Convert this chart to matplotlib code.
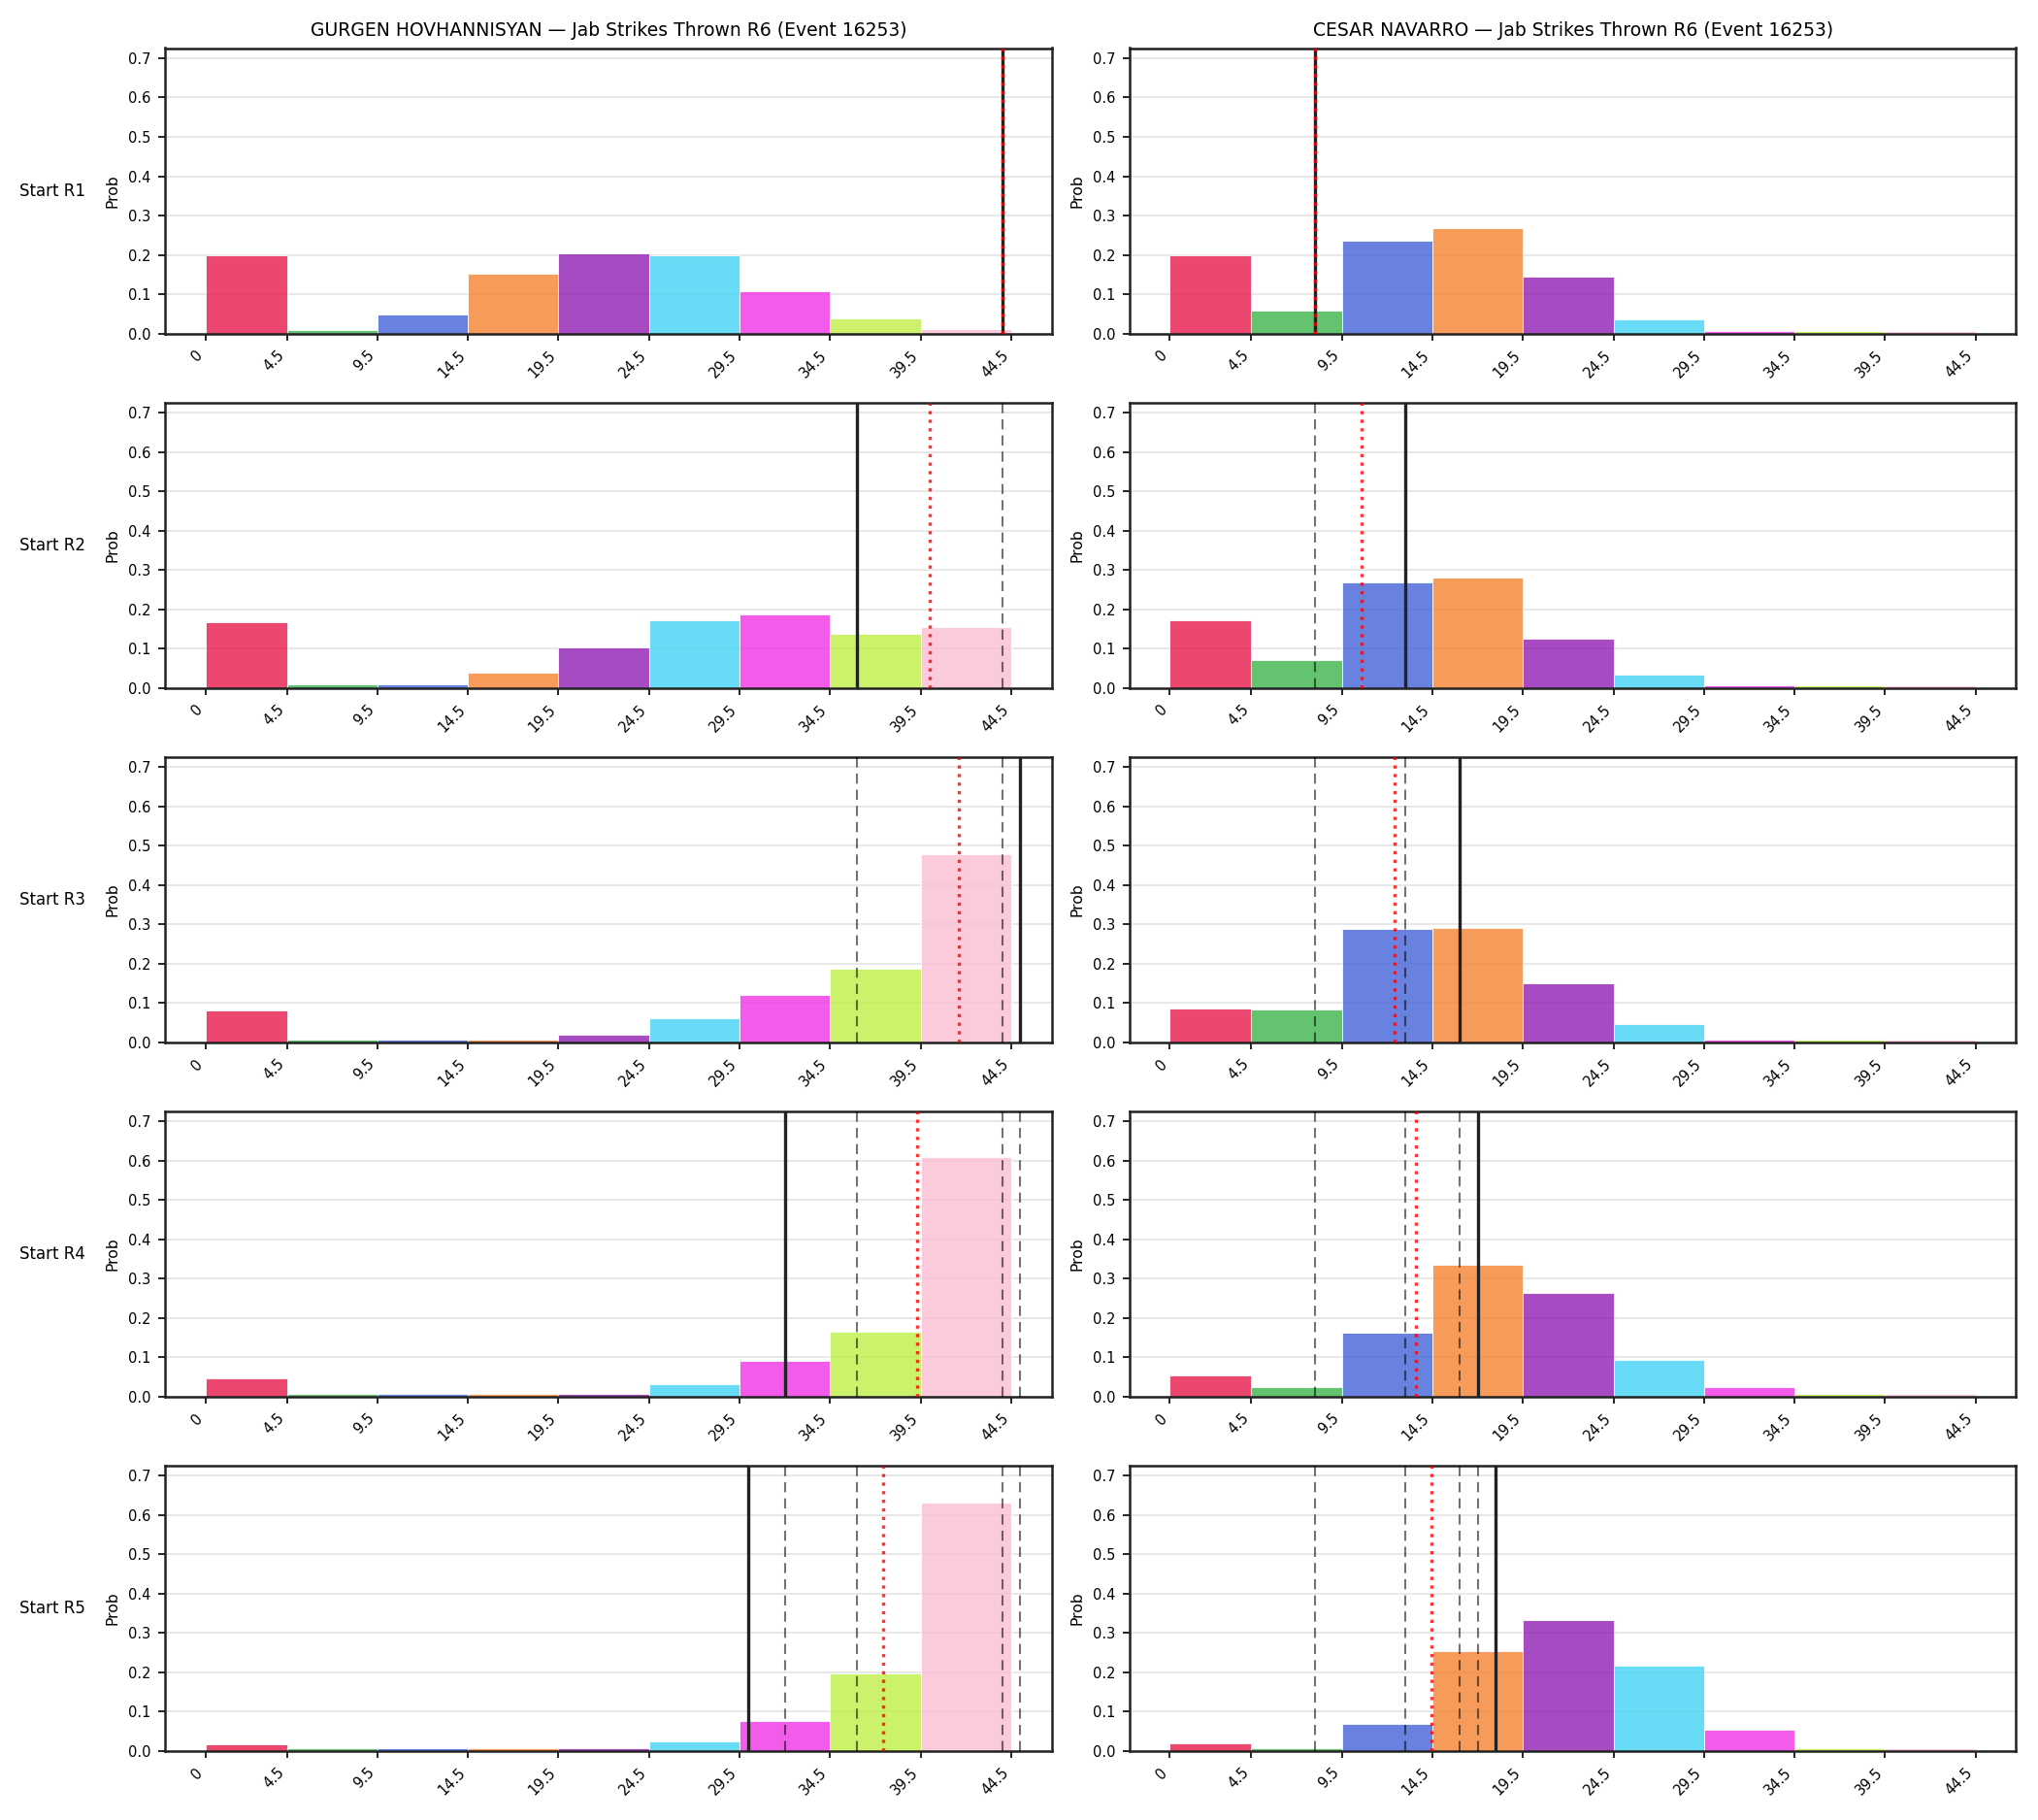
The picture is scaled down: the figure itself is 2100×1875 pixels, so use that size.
import matplotlib
matplotlib.use("Agg")
import matplotlib.pyplot as plt

# ---------------- data ----------------
bin_edges = [0, 4.5, 9.5, 14.5, 19.5, 24.5, 29.5, 34.5, 39.5, 44.5]
tick_labels = ["0", "4.5", "9.5", "14.5", "19.5", "24.5", "29.5", "34.5", "39.5", "44.5"]
bin_colors = ["#e6194b", "#3cb44b", "#4363d8", "#f58231", "#911eb4",
              "#42d4f4", "#f032e6", "#bfef45", "#fabed4"]
row_labels = ["Start R1", "Start R2", "Start R3", "Start R4", "Start R5"]
fighters = ["GURGEN HOVHANNISYAN", "CESAR NAVARRO"]
title_suffix = " \u2014 Jab Strikes Thrown R6 (Event 16253)"

gurgen_probs = [
    [0.198, 0.008, 0.049, 0.152, 0.205, 0.198, 0.108, 0.039, 0.012],
    [0.168, 0.008, 0.008, 0.040, 0.102, 0.173, 0.186, 0.138, 0.154],
    [0.081, 0.008, 0.008, 0.008, 0.020, 0.062, 0.121, 0.188, 0.478],
    [0.047, 0.007, 0.007, 0.007, 0.007, 0.032, 0.092, 0.166, 0.608],
    [0.017, 0.007, 0.007, 0.007, 0.007, 0.025, 0.077, 0.198, 0.631],
]
gurgen_actual = [44, 36, 45, 32, 30]
gurgen_mean = [44.0, 40.0, 41.6, 39.3, 37.4]

navarro_probs = [
    [0.199, 0.058, 0.237, 0.267, 0.145, 0.036, 0.007, 0.007, 0.007],
    [0.173, 0.072, 0.267, 0.280, 0.126, 0.035, 0.007, 0.007, 0.007],
    [0.087, 0.083, 0.289, 0.291, 0.150, 0.046, 0.007, 0.007, 0.007],
    [0.053, 0.025, 0.163, 0.334, 0.263, 0.094, 0.025, 0.007, 0.007],
    [0.020, 0.007, 0.069, 0.255, 0.332, 0.218, 0.055, 0.007, 0.007],
]
navarro_actual = [8, 13, 16, 17, 18]
navarro_mean = [8.0, 10.6, 12.4, 13.6, 14.45]

all_probs = [gurgen_probs, navarro_probs]
all_actual = [gurgen_actual, navarro_actual]
all_mean = [gurgen_mean, navarro_mean]

# ---------------- plot ----------------
fig, axes = plt.subplots(5, 2, figsize=(14, 12.5), dpi=150)
fig.subplots_adjust(left=0.081, right=0.9892, top=0.9736, bottom=0.0379,
                    wspace=0.088, hspace=0.241)
ymax = max(max(max(r) for r in p) for p in all_probs) * 1.15
lefts = bin_edges[:-1]
widths = [bin_edges[i + 1] - bin_edges[i] for i in range(len(lefts))]

for c in range(2):
    for r in range(5):
        ax = axes[r, c]
        ax.bar(lefts, all_probs[c][r], width=widths, align="edge",
               color=bin_colors, alpha=0.8, edgecolor="white", linewidth=0.5, zorder=2)
        for prev in all_actual[c][:r]:
            ax.axvline(prev, color="black", linestyle=(0, (5, 3)), linewidth=1.0,
                       alpha=0.55, zorder=3)
        ax.axvline(all_actual[c][r], color="#222222", linestyle="-", linewidth=1.6, zorder=4)
        ax.axvline(all_mean[c][r], color="red", linestyle=":", linewidth=1.6,
                   alpha=0.8, zorder=5)
        ax.set_ylim(0, ymax)
        ax.set_xticks(bin_edges)
        ax.set_xticklabels(tick_labels, rotation=45, ha="right", fontsize=7)
        ax.tick_params(axis="y", labelsize=7)
        ax.set_ylabel("Prob", fontsize=7.5)
        ax.grid(axis="y", color="#dddddd", linewidth=0.8, alpha=0.8)
        ax.set_axisbelow(True)
        for sp in ax.spines.values():
            sp.set_linewidth(1.2)
            sp.set_color("#222222")
        if r == 0:
            ax.set_title(fighters[c] + title_suffix, fontsize=9)
        if c == 0:
            ax.text(-0.09, 0.5, row_labels[r], transform=ax.transAxes,
                    ha="right", va="center", fontsize=8)

fig.savefig("out.png", dpi=150)
